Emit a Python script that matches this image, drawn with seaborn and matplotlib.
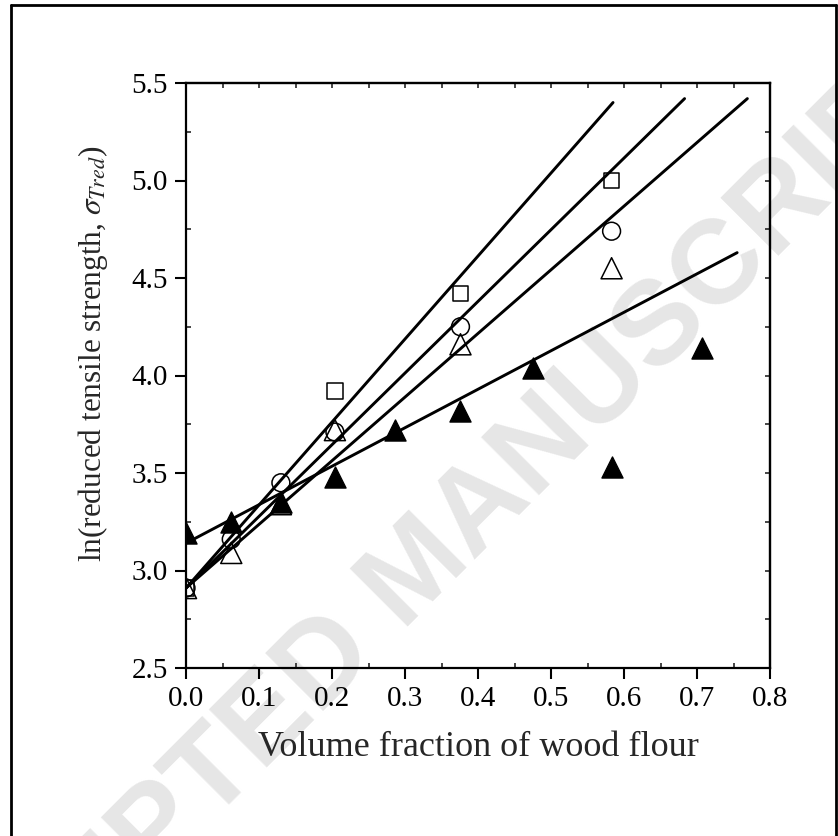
"""
plot.py
ln(reduced tensile strength) vs. volume fraction of wood flour,
with linear fits for each composite series.
"""

import numpy as np
import matplotlib
matplotlib.use("Agg")
import matplotlib.pyplot as plt
from matplotlib.lines import Line2D
from matplotlib.ticker import MultipleLocator, FormatStrFormatter
import seaborn as sns

# ── Data ─────────────────────────────────────────────────────────────────────

x_sq = [0.0, 0.204, 0.376, 0.583]
y_sq = [2.91, 3.92, 4.42, 5.00]

x_ci = [0.0, 0.062, 0.130, 0.204, 0.376, 0.583]
y_ci = [2.91, 3.16, 3.45, 3.71, 4.25, 4.74]

x_tr = [0.0, 0.062, 0.130, 0.204, 0.376, 0.583]
y_tr = [2.91, 3.09, 3.34, 3.72, 4.16, 4.55]

x_ft = [0.0, 0.062, 0.130, 0.204, 0.286, 0.376, 0.475, 0.584, 0.707]
y_ft = [3.19, 3.25, 3.35, 3.48, 3.72, 3.82, 4.04, 3.53, 4.14]

# fitted straight lines: end points
fit_sq_x, fit_sq_y = [0.0, 0.585], [2.91, 5.40]
fit_ci_x, fit_ci_y = [0.0, 0.683], [2.91, 5.42]
fit_tr_x, fit_tr_y = [0.0, 0.769], [2.91, 5.42]
fit_ft_x, fit_ft_y = [0.0, 0.755], [3.14, 4.63]

x_ticks = np.arange(0.0, 0.81, 0.1)
y_ticks = np.arange(2.5, 5.51, 0.5)

# ── Style ────────────────────────────────────────────────────────────────────

sns.set_style("ticks")
plt.rcParams["font.family"] = ["Liberation Serif", "DejaVu Serif"]
plt.rcParams["mathtext.fontset"] = "stix"

W, H = 838, 836
fig = plt.figure(figsize=(W / 100, H / 100), dpi=100)
fig.patch.set_facecolor("white")

# watermark behind everything
fig.text(0.50, 0.315, "ACCEPTED MANUSCRIPT", rotation=45,
         ha="center", va="center", fontsize=86, fontweight="bold",
         family="Liberation Sans", color="#e6e6e6", zorder=-1)

# outer frame (left, top, right)
lw_frame = 2.0
for xs, ys in [([11, 11], [H, 5]), ([11, 836], [5, 5]), ([836, 836], [5, H])]:
    fig.add_artist(Line2D([x / W for x in xs], [1 - y / H for y in ys],
                          color="black", lw=lw_frame, transform=fig.transFigure))

ax = fig.add_axes([186 / W, 1 - 668 / H, 584 / W, 585 / H])
ax.patch.set_alpha(0)

# ── Fit lines ────────────────────────────────────────────────────────────────
for fx, fy in [(fit_sq_x, fit_sq_y), (fit_ci_x, fit_ci_y),
               (fit_tr_x, fit_tr_y), (fit_ft_x, fit_ft_y)]:
    sns.lineplot(x=fx, y=fy, ax=ax, color="black", lw=2.1, zorder=2)

# ── Markers ──────────────────────────────────────────────────────────────────
sns.scatterplot(x=x_sq, y=y_sq, ax=ax, marker="s", s=125,
                edgecolor="black", linewidth=1.1, zorder=3)
ax.collections[-1].set_facecolor("none")
sns.scatterplot(x=x_ci, y=y_ci, ax=ax, marker="o", s=165,
                edgecolor="black", linewidth=1.1, zorder=3)
ax.collections[-1].set_facecolor("none")
sns.scatterplot(x=x_tr, y=y_tr, ax=ax, marker="^", s=230,
                edgecolor="black", linewidth=1.1, zorder=3)
ax.collections[-1].set_facecolor("none")
sns.scatterplot(x=x_ft, y=y_ft, ax=ax, marker="^", s=230,
                color="black", edgecolor="black", linewidth=1.0, zorder=4)

# ── Axes ─────────────────────────────────────────────────────────────────────
ax.set_xlim(0.0, 0.8)
ax.set_ylim(2.5, 5.5)
ax.set_xticks(x_ticks)
ax.set_yticks(y_ticks)
ax.xaxis.set_major_formatter(FormatStrFormatter("%.1f"))
ax.yaxis.set_major_formatter(FormatStrFormatter("%.1f"))
ax.xaxis.set_minor_locator(MultipleLocator(0.05))
ax.yaxis.set_minor_locator(MultipleLocator(0.25))

for sp in ax.spines.values():
    sp.set_visible(True)
    sp.set_linewidth(1.6)
    sp.set_color("black")

ax.tick_params(which="major", direction="out", length=8, width=1.5,
               labelsize=21, pad=5, colors="black")
ax.tick_params(which="minor", direction="in", length=3.5, width=1.2)

# top / right: short inward ticks, no labels
top = ax.secondary_xaxis("top")
top.set_xticks(np.arange(0.0, 0.81, 0.05))
top.tick_params(direction="in", length=3.5, width=1.2, labeltop=False)
top.spines["top"].set_linewidth(1.6)
right = ax.secondary_yaxis("right")
right.set_yticks(np.arange(2.5, 5.51, 0.25))
right.tick_params(direction="in", length=3.5, width=1.2, labelright=False)
right.spines["right"].set_linewidth(1.6)

ax.set_xlabel("Volume fraction of wood flour", fontsize=26, labelpad=14)
ax.set_ylabel(r"ln(reduced tensile strength, $\sigma_{Tred}$)", fontsize=22.5)
ax.yaxis.set_label_coords(-0.13, 0.537)

fig.savefig("out.png", dpi=100, facecolor="white")
plt.close(fig)
